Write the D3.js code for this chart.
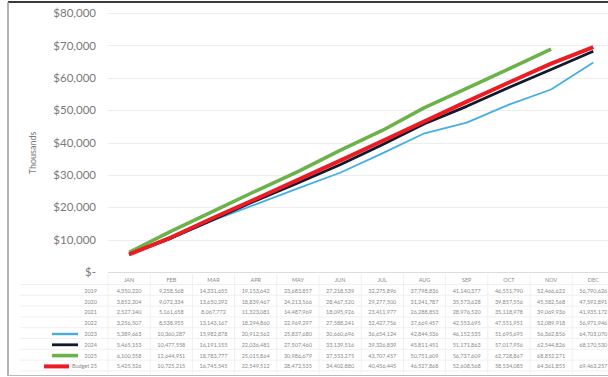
<!DOCTYPE html>
<html>
<head>
<meta charset="utf-8">
<script src="https://cdn.jsdelivr.net/npm/d3@7"></script>
<style>
    body { margin: 0; background: #fff; }
    #chart { width: 608px; height: 377px; }
    text { font-family: Lato, "Open Sans", sans-serif; }
</style>
</head>
<body>
<div id="chart"></div>
<script>
// categories
var months = ["JAN", "FEB", "MAR", "APR", "MAY", "JUN", "JUL", "AUG", "SEP", "OCT", "NOV", "DEC"];
var yTicks = [0, 10000, 20000, 30000, 40000, 50000, 60000, 70000, 80000];

// cumulative values per year (dollars), as shown in the data table
var y2019 = [4350220, 9258568, 14331655, 19153642, 23683857, 27218539, 32275896, 37798836, 41140377, 46551790, 52466622, 56790626];
var y2020 = [3852204, 9072334, 13650292, 18839467, 24213566, 28467520, 29277500, 31241787, 35573628, 39857556, 45582568, 47592891];
var y2021 = [2527140, 5161658, 8067772, 11323081, 14487969, 18095926, 23411977, 26288853, 28976520, 35118978, 39069936, 41935172];
var y2022 = [3256507, 8538955, 13143167, 18294860, 22969297, 27588241, 32427756, 37669457, 42553695, 47551951, 52089918, 56971946];
var y2023 = [5389663, 10360287, 15982878, 20912562, 25837680, 30660696, 36654124, 42844536, 46152535, 51695695, 56362856, 64703070];
var y2024 = [5465153, 10477558, 16191155, 22036481, 27507460, 33139516, 39326839, 45811451, 51171863, 57017956, 62544826, 68170530];
var y2025 = [6100558, 12644951, 18783777, 25015864, 30986679, 37553275, 43707457, 50751609, 56737609, 62728867, 68852271, null];
var budget25 = [5425526, 10725215, 16745545, 22549512, 28472535, 34402880, 40456445, 46527868, 52608568, 58534085, 64361855, 69463257];

// table rows, top to bottom (only the last four are drawn as lines)
var rows = [
    { name: "2019", values: y2019, color: null, width: 0 },
    { name: "2020", values: y2020, color: null, width: 0 },
    { name: "2021", values: y2021, color: null, width: 0 },
    { name: "2022", values: y2022, color: null, width: 0 },
    { name: "2023", values: y2023, color: "#46aee6", width: 1.8 },
    { name: "2024", values: y2024, color: "#0f1a2c", width: 2.8 },
    { name: "2025", values: y2025, color: "#6cb24a", width: 3.6 },
    { name: "Budget 25", values: budget25, color: "#ec1c24", width: 4 }
];

var width = 608, height = 377;

var svg = d3.select("#chart")
    .append("svg")
    .attr("width", width)
    .attr("height", height);

// scales
var x = d3.scaleBand()
    .domain(months)
    .range([108, 108 + 12 * 42.2]);

var y = d3.scaleLinear()
    .domain([0, 80000])
    .range([272, 13]);

// gridlines
svg.append("g")
    .selectAll("line")
    .data(yTicks)
    .enter()
    .append("line")
    .attr("x1", 108)
    .attr("x2", width)
    .attr("y1", (d) => Math.round(y(d)) + 0.5)
    .attr("y2", (d) => Math.round(y(d)) + 0.5)
    .attr("stroke", (d) => d == 0 ? "#dcdcdc" : "#ededed")
    .attr("stroke-width", 1);

// y axis labels
var yAxis = d3.axisLeft(y)
    .tickValues(yTicks)
    .tickSize(0)
    .tickPadding(0)
    .tickFormat((d) => d == 0 ? "$-" : "$" + d3.format(",")(d));

svg.append("g")
    .attr("transform", "translate(96,0)")
    .call(yAxis)
    .call((g) => g.select(".domain").remove())
    .selectAll("text")
    .attr("font-size", 11.5)
    .attr("fill", "#7a7a7a");

// axis title
svg.append("text")
    .attr("transform", "translate(36,153) rotate(-90)")
    .attr("text-anchor", "middle")
    .attr("font-size", 9)
    .attr("fill", "#7a7a7a")
    .text("Thousands");

// lines (values shown in thousands)
var line = d3.line()
    .defined((d) => d != null)
    .x((d, i) => x(months[i]) + x.bandwidth() / 2)
    .y((d) => y(d / 1000));

svg.append("g")
    .selectAll("path")
    .data(rows.filter((r) => r.color))
    .enter()
    .append("path")
    .attr("d", (r) => line(r.values))
    .attr("fill", "none")
    .attr("stroke", (r) => r.color)
    .attr("stroke-width", (r) => r.width)
    .attr("stroke-linejoin", "round");

// data table
var rowY0 = 280, rowH = 10.8;
var table = svg.append("g");

// table grid
table.selectAll(".hline")
    .data(d3.range(rows.length + 1))
    .enter()
    .append("line")
    .attr("x1", 20)
    .attr("x2", width)
    .attr("y1", (i) => rowY0 + 4.5 + i * rowH)
    .attr("y2", (i) => rowY0 + 4.5 + i * rowH)
    .attr("stroke", "#f0f0f0");

table.selectAll(".vline")
    .data(months)
    .enter()
    .append("line")
    .attr("x1", (m) => x(m))
    .attr("x2", (m) => x(m))
    .attr("y1", 274)
    .attr("y2", 374)
    .attr("stroke", "#f0f0f0");

// month headers
table.selectAll(".month")
    .data(months)
    .enter()
    .append("text")
    .attr("x", (m) => x(m) + x.bandwidth() / 2)
    .attr("y", rowY0 + 2)
    .attr("text-anchor", "middle")
    .attr("font-size", 5.5)
    .attr("fill", "#8a8a8a")
    .text((m) => m);

var rowG = table.selectAll(".row")
    .data(rows)
    .enter()
    .append("g")
    .attr("transform", (r, i) => "translate(0," + (rowY0 + (i + 1) * rowH) + ")");

// row labels
rowG.append("text")
    .attr("x", 97)
    .attr("y", 2)
    .attr("text-anchor", "end")
    .attr("font-size", 5.5)
    .attr("fill", "#8a8a8a")
    .text((r) => r.name);

// legend keys
rowG.filter((r) => r.color)
    .append("line")
    .attr("x1", (r) => r.name == "Budget 25" ? 44 : 52)
    .attr("x2", (r) => r.name == "Budget 25" ? 69 : 78)
    .attr("y1", 0)
    .attr("y2", 0)
    .attr("stroke", (r) => r.color)
    .attr("stroke-width", (r) => Math.max(r.width, 2.4));

// values
rowG.selectAll(".val")
    .data((r) => r.values)
    .enter()
    .append("text")
    .attr("x", (d, i) => x(months[i]) + x.bandwidth() / 2)
    .attr("y", 2)
    .attr("text-anchor", "middle")
    .attr("font-size", 5.5)
    .attr("fill", "#8a8a8a")
    .text((d) => d == null ? "" : d3.format(",")(d));

// chart frame
svg.append("line")
    .attr("x1", 8).attr("x2", width)
    .attr("y1", 2).attr("y2", 2)
    .attr("stroke", "#3a3a3a")
    .attr("stroke-width", 2);
svg.append("line")
    .attr("x1", 8).attr("x2", 8)
    .attr("y1", 2).attr("y2", 376)
    .attr("stroke", "#9a9a9a")
    .attr("stroke-width", 1.5);
svg.append("line")
    .attr("x1", 8).attr("x2", width)
    .attr("y1", 375.5).attr("y2", 375.5)
    .attr("stroke", "#bbbbbb")
    .attr("stroke-width", 1);
</script>
</body>
</html>
